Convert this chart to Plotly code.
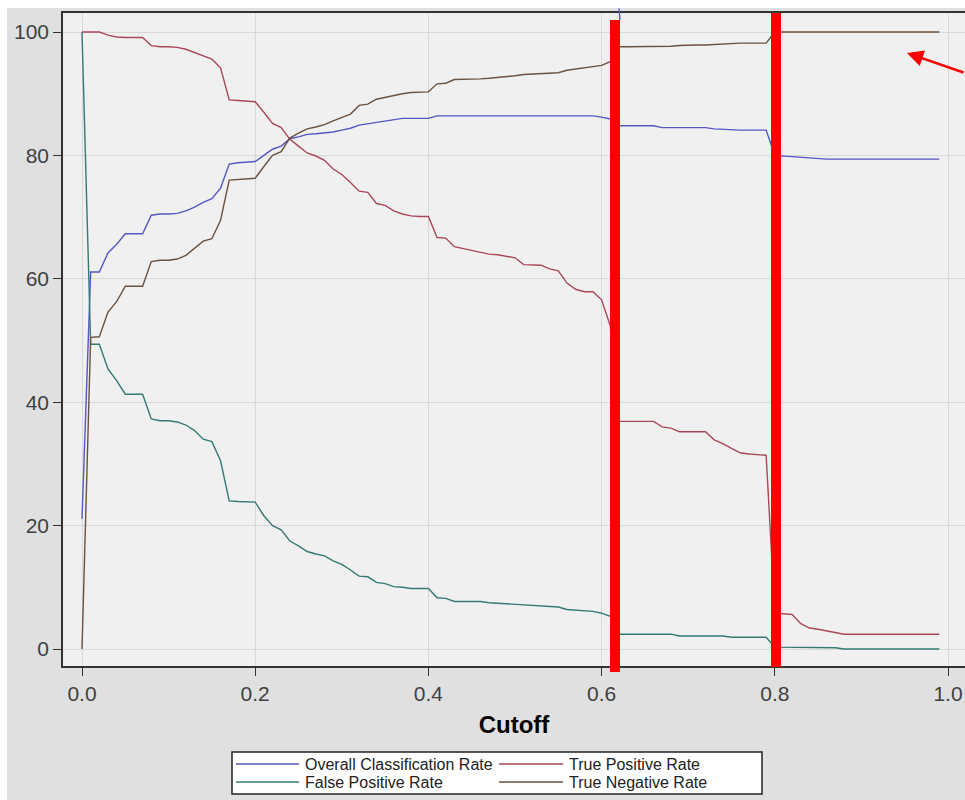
import plotly.graph_objects as go

# ---------------- data ----------------
cutoff = [0.00, 0.01, 0.02, 0.03, 0.04, 0.05, 0.06, 0.07, 0.08, 0.09,
          0.10, 0.11, 0.12, 0.13, 0.14, 0.15, 0.16, 0.17, 0.18, 0.19,
          0.20, 0.21, 0.22, 0.23, 0.24, 0.25, 0.26, 0.27, 0.28, 0.29,
          0.30, 0.31, 0.32, 0.33, 0.34, 0.35, 0.36, 0.37, 0.38, 0.39,
          0.40, 0.41, 0.42, 0.43, 0.44, 0.45, 0.46, 0.47, 0.48, 0.49,
          0.50, 0.51, 0.52, 0.53, 0.54, 0.55, 0.56, 0.57, 0.58, 0.59,
          0.60, 0.61, 0.62, 0.63, 0.64, 0.65, 0.66, 0.67, 0.68, 0.69,
          0.70, 0.71, 0.72, 0.73, 0.74, 0.75, 0.76, 0.77, 0.78, 0.79,
          0.80, 0.81, 0.82, 0.83, 0.84, 0.85, 0.86, 0.87, 0.88, 0.89,
          0.90, 0.91, 0.92, 0.93, 0.94, 0.95, 0.96, 0.97, 0.98, 0.99]

overall_rate = [21.1, 61.1, 61.1, 64.2, 65.6, 67.3, 67.3, 67.3, 70.3, 70.5,
                70.5, 70.6, 71.0, 71.6, 72.4, 73.0, 74.7, 78.6, 78.8, 78.9,
                79.0, 80.0, 81.0, 81.5, 82.7, 83.0, 83.4, 83.5, 83.6, 83.8,
                84.1, 84.4, 84.9, 85.1, 85.3, 85.6, 85.8, 86.0, 86.0, 86.0,
                86.0, 86.4, 86.4, 86.4, 86.4, 86.4, 86.4, 86.4, 86.4, 86.4,
                86.4, 86.4, 86.4, 86.4, 86.4, 86.4, 86.4, 86.4, 86.4, 86.4,
                86.2, 85.9, 84.8, 84.8, 84.8, 84.8, 84.8, 84.5, 84.5, 84.5,
                84.5, 84.5, 84.5, 84.3, 84.2, 84.1, 84.1, 84.1, 84.1, 84.1,
                80.0, 79.9, 79.7, 79.6, 79.5, 79.5, 79.4, 79.4, 79.4, 79.4,
                79.4, 79.4, 79.4, 79.4, 79.4, 79.4, 79.4, 79.4, 79.4, 79.4]

true_pos_rate = [100.0, 100.0, 100.0, 99.5, 99.2, 99.1, 99.1, 99.1, 97.8, 97.6,
                 97.6, 97.5, 97.2, 96.7, 96.1, 95.6, 94.2, 89.0, 88.9, 88.8,
                 88.7, 87.0, 85.2, 84.5, 82.6, 81.5, 80.4, 79.9, 79.2, 77.8,
                 76.9, 75.6, 74.2, 74.0, 72.2, 71.9, 71.0, 70.5, 70.2, 70.1,
                 70.1, 66.7, 66.6, 65.2, 64.9, 64.6, 64.3, 64.0, 63.9, 63.7,
                 63.4, 62.3, 62.2, 62.2, 61.6, 61.3, 59.3, 58.3, 57.9, 57.9,
                 56.6, 52.4, 36.9, 36.9, 36.9, 36.9, 36.9, 36.0, 35.8, 35.2,
                 35.2, 35.2, 35.2, 33.9, 33.3, 32.5, 31.8, 31.6, 31.5, 31.4,
                 5.8, 5.7, 5.6, 4.1, 3.4, 3.2, 2.9, 2.7, 2.4, 2.4,
                 2.4, 2.4, 2.4, 2.4, 2.4, 2.4, 2.4, 2.4, 2.4, 2.4]

false_pos_rate = [100.0, 49.4, 49.4, 45.4, 43.5, 41.3, 41.3, 41.3, 37.3, 37.0,
                  37.0, 36.8, 36.3, 35.4, 34.0, 33.6, 30.5, 24.0, 23.9, 23.8,
                  23.8, 21.6, 20.0, 19.3, 17.5, 16.7, 15.8, 15.4, 15.1, 14.3,
                  13.7, 12.8, 11.8, 11.7, 10.8, 10.6, 10.1, 10.0, 9.8, 9.8,
                  9.8, 8.3, 8.2, 7.7, 7.7, 7.7, 7.7, 7.5, 7.4, 7.3,
                  7.2, 7.1, 7.1, 7.0, 6.9, 6.8, 6.4, 6.3, 6.2, 6.1,
                  5.8, 5.3, 2.4, 2.4, 2.4, 2.4, 2.4, 2.4, 2.4, 2.1,
                  2.1, 2.1, 2.1, 2.1, 2.1, 1.9, 1.9, 1.9, 1.9, 1.9,
                  0.3, 0.3, 0.3, 0.3, 0.3, 0.3, 0.3, 0.2, 0.0, 0.0,
                  0.0, 0.0, 0.0, 0.0, 0.0, 0.0, 0.0, 0.0, 0.0, 0.0]

true_neg_rate = [0.0, 50.5, 50.6, 54.6, 56.3, 58.8, 58.8, 58.8, 62.8, 63.0,
                 63.0, 63.2, 63.8, 65.0, 66.1, 66.5, 69.5, 76.0, 76.1, 76.2,
                 76.3, 78.2, 80.0, 80.6, 82.8, 83.6, 84.3, 84.6, 85.0, 85.6,
                 86.2, 86.7, 88.1, 88.3, 89.1, 89.4, 89.8, 90.0, 90.2, 90.3,
                 90.3, 91.6, 91.7, 92.3, 92.3, 92.4, 92.4, 92.5, 92.6, 92.7,
                 92.9, 93.1, 93.2, 93.2, 93.3, 93.4, 93.8, 94.0, 94.2, 94.3,
                 94.6, 95.2, 97.6, 97.6, 97.6, 97.6, 97.6, 97.7, 97.7, 97.8,
                 97.9, 97.9, 97.9, 98.0, 98.1, 98.2, 98.2, 98.2, 98.2, 98.2,
                 100.0, 100.0, 100.0, 100.0, 100.0, 100.0, 100.0, 100.0, 100.0, 100.0,
                 100.0, 100.0, 100.0, 100.0, 100.0, 100.0, 100.0, 100.0, 100.0, 100.0]

series_names = ["Overall Classification Rate", "True Positive Rate",
                "False Positive Rate", "True Negative Rate"]
x_ticks = [0.0, 0.2, 0.4, 0.6, 0.8, 1.0]
x_tick_labels = ["0.0", "0.2", "0.4", "0.6", "0.8", "1.0"]
y_ticks = [0, 20, 40, 60, 80, 100]
y_tick_labels = ["0", "20", "40", "60", "80", "100"]
x_title = "Cutoff"

# ---------------- styling / layout geometry (page pixel coordinates) ----------------
W, H = 965, 800                             # figure size (placed at page origin)
PL, PR, PT, PB = 63, 965, 13, 666           # plot area in page pixels
colors = ["#5656c4", "#a8485a", "#347a72", "#6b5240"]
FONT = "Liberation Sans, Arial, sans-serif"


def px(xp):
    return (xp - PL) / (PR - PL)


def py(yp):
    return (PB - yp) / (PB - PT)


fig = go.Figure()
for name, ys, c in zip(series_names,
                       [overall_rate, true_pos_rate, false_pos_rate, true_neg_rate],
                       colors):
    fig.add_trace(go.Scatter(x=cutoff, y=ys, mode="lines", name=name,
                             line=dict(color=c, width=1.4), showlegend=False))

shapes = []
# white strips along top and left edges of the screenshot
shapes.append(dict(type="rect", xref="paper", yref="paper", x0=px(0), x1=px(W),
                   y0=py(8), y1=py(0), fillcolor="white", line_width=0, layer="above"))
shapes.append(dict(type="rect", xref="paper", yref="paper", x0=px(0), x1=px(7),
                   y0=py(H), y1=py(0), fillcolor="white", line_width=0, layer="above"))
# red markers (annotation bars)
shapes.append(dict(type="rect", xref="paper", yref="paper", x0=px(610), x1=px(620),
                   y0=py(672), y1=py(20), fillcolor="#ff0000", line_width=0, layer="above"))
shapes.append(dict(type="rect", xref="paper", yref="paper", x0=px(771), x1=px(781),
                   y0=py(667), y1=py(13), fillcolor="#ff0000", line_width=0, layer="above"))
# small blue stroke at top
shapes.append(dict(type="line", xref="paper", yref="paper", x0=px(619), x1=px(620),
                   y0=py(8.5), y1=py(20), line=dict(color="#5656c4", width=1.4), layer="above"))

# manual legend
shapes.append(dict(type="rect", xref="paper", yref="paper", x0=px(232), x1=px(762),
                   y0=py(794), y1=py(752), fillcolor="white",
                   line=dict(color="#222222", width=1.5), layer="above"))
legend_pos = [(236, 299, 764), (499, 563, 764), (236, 299, 782), (499, 563, 782)]
annotations = []
for idx, (x0, x1, yy) in enumerate(legend_pos):
    shapes.append(dict(type="line", xref="paper", yref="paper", x0=px(x0), x1=px(x1),
                       y0=py(yy), y1=py(yy), line=dict(color=colors[idx], width=1.4),
                       layer="above"))
    annotations.append(dict(xref="paper", yref="paper", x=px(x1 + 4), y=py(yy),
                            text=series_names[idx], showarrow=False, xanchor="left",
                            yanchor="middle", font=dict(family=FONT, size=16, color="#222222")))

# red arrow
annotations.append(dict(xref="paper", yref="paper", x=px(907), y=py(53), text="",
                        showarrow=True, arrowhead=2, arrowsize=1.3, arrowwidth=2.5,
                        arrowcolor="#ff0000", ax=70, ay=20, axref="pixel", ayref="pixel"))

x0v = -(82 - PL) / 866.0
x1v = (PR - 82) / 866.0
y0v = -(PB - 649) / 6.17
y1v = 100 + (32 - PT) / 6.17

fig.update_layout(
    width=W, height=H,
    margin=dict(l=PL, r=W - PR, t=PT, b=H - PB, pad=0),
    paper_bgcolor="#e0e0e0",
    plot_bgcolor="#f0f0f0",
    shapes=shapes,
    annotations=annotations,
    xaxis=dict(range=[x0v, x1v], tickvals=x_ticks, ticktext=x_tick_labels,
               showgrid=True, gridcolor="#d9d9d9", gridwidth=1, zeroline=False,
               showline=True, linecolor="#333333", linewidth=1.5, mirror=True,
               ticks="outside", ticklen=8, tickcolor="#333333",
               tickfont=dict(family=FONT, size=21, color="#404040"),
               title=dict(text="<b>" + x_title + "</b>", standoff=12,
                          font=dict(family=FONT, size=24, color="#000000"))),
    yaxis=dict(range=[y0v, y1v], tickvals=y_ticks, ticktext=y_tick_labels,
               showgrid=True, gridcolor="#d9d9d9", gridwidth=1, zeroline=False,
               showline=True, linecolor="#333333", linewidth=1.5, mirror=False,
               ticks="outside", ticklen=8, tickcolor="#333333",
               tickfont=dict(family=FONT, size=21, color="#404040")),
)

fig.write_html("out.html",
               config={"displayModeBar": False},
               post_script="document.documentElement.style.overflow='hidden';"
                           "document.body.style.overflow='hidden';"
                           "document.body.style.margin='0';")
